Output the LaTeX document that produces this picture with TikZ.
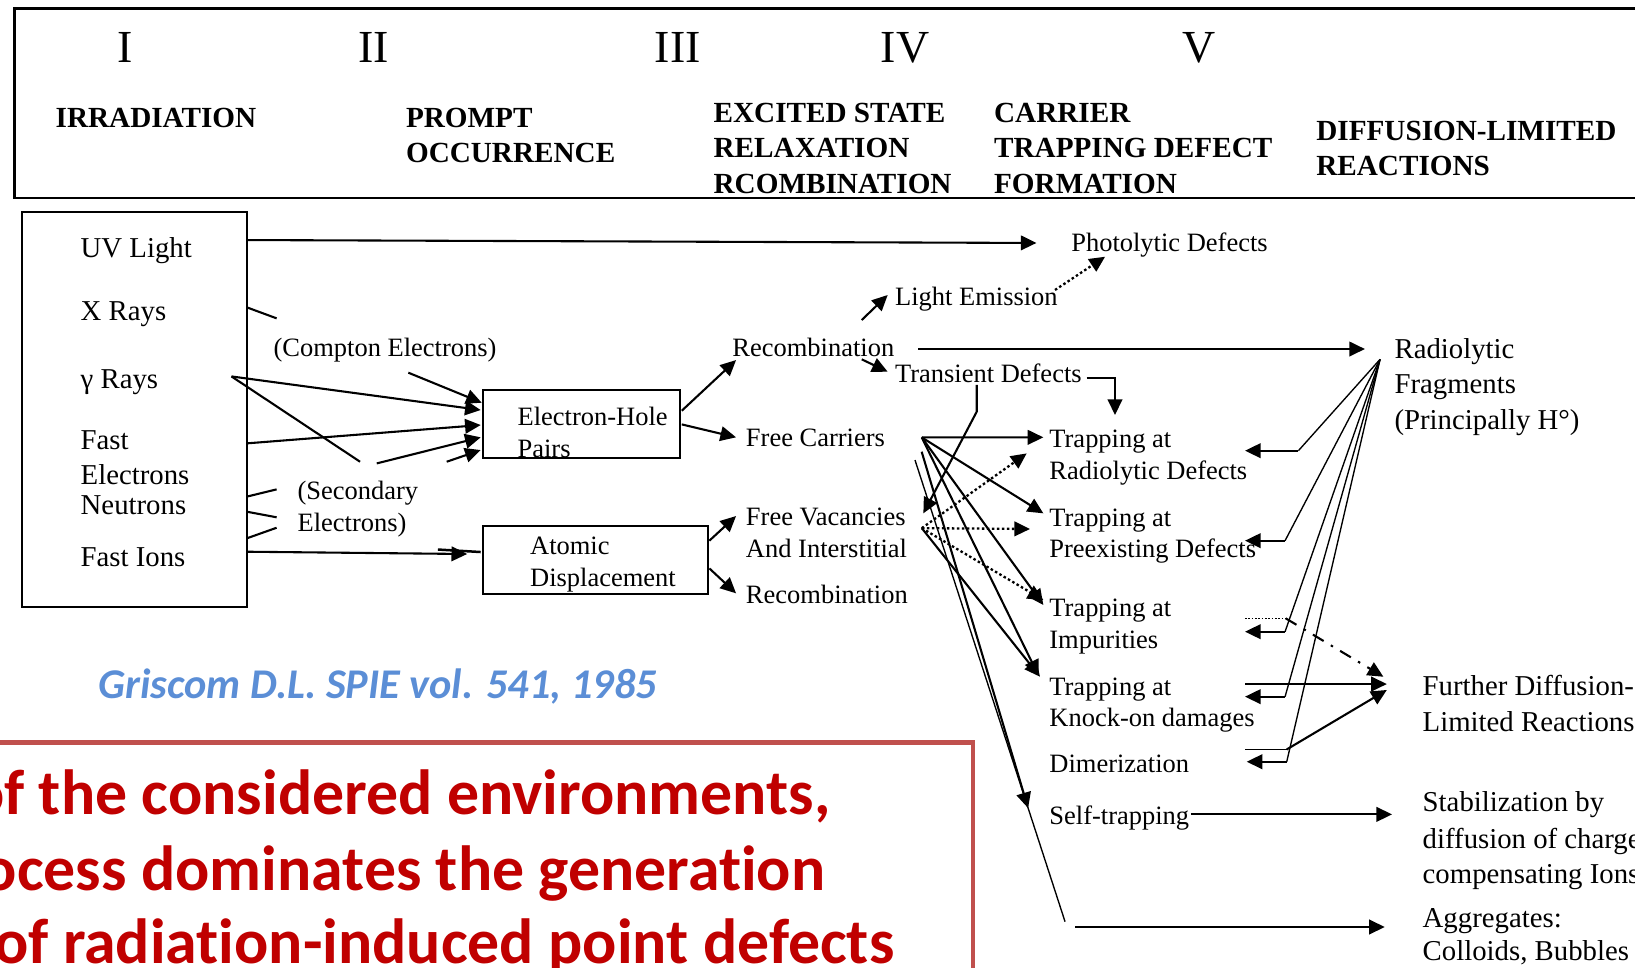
\documentclass[tikz,border=0pt]{standalone}
\usepackage{fontspec}
\setmainfont{Liberation Serif}
\newfontfamily\calfont[Ligatures=NoCommon]{Carlito}
\usetikzlibrary{arrows.meta}
\definecolor{refblue}{RGB}{91,142,214}
\definecolor{refred}{RGB}{192,0,0}
\definecolor{boxred}{RGB}{192,80,77}
\tikzset{
  txt/.style={anchor=mid west, inner sep=0pt, yshift=-2pt, font=\fontsize{12.7}{15}\selectfont},
  txtL/.style={txt, font=\fontsize{13.8}{16}\selectfont},
  hdr/.style={anchor=west, inner sep=0pt, font=\bfseries\fontsize{14}{17}\selectfont},
  num/.style={inner sep=0pt, font=\fontsize{22}{26}\selectfont},
  boxnode/.style={draw, line width=1pt, inner sep=0pt},
  arr/.style={-{Triangle[length=7.5pt,width=7pt]}, line width=1pt},
  ln/.style={line width=1pt},
  fanline/.style={line width=0.65pt},
  dots/.style={dash pattern=on 1.2pt off 1.2pt, line width=1.1pt},
  dotarr/.style={dots, -{Triangle[length=7.5pt,width=7pt]}},
  redtxt/.style={anchor=base east, inner sep=0pt, text=refred, font=\calfont\bfseries\fontsize{30.6}{36}\selectfont},
}
\begin{document}
\begin{tikzpicture}[x=0.5pt,y=-0.5pt]
\useasboundingbox (0,0) rectangle (1568,928);
\clip (0,0) rectangle (1568,928);
% header
\node[boxnode, line width=1.2pt, minimum width=793pt, minimum height=91pt] (hdrbox) at (807,99) {};
\node[num] (n1) at (120,46) {I};
\node[num] (n2) at (358,46) {II};
\node[num] (n3) at (650,46) {III};
\node[num] (n4) at (868,46) {IV};
\node[num] (n5) at (1150,46) {V};
\node[hdr] (h1) at (53,113) {IRRADIATION};
\node[hdr] (h2a) at (389,113) {PROMPT};
\node[hdr] (h2b) at (389,147) {OCCURRENCE};
\node[hdr] (h3a) at (684,108) {EXCITED STATE};
\node[hdr] (h3b) at (684,142) {RELAXATION};
\node[hdr] (h3c) at (684,176) {RCOMBINATION};
\node[hdr] (h4a) at (953,108) {CARRIER};
\node[hdr] (h4b) at (953,142) {TRAPPING DEFECT};
\node[hdr] (h4c) at (953,176) {FORMATION};
\node[hdr] (h5a) at (1262,126) {DIFFUSION-LIMITED};
\node[hdr] (h5b) at (1262,159) {REACTIONS};
% boxes
\node[boxnode, minimum width=107.9pt, minimum height=189.5pt] (src) at (128.7,393) {};
\node[boxnode, minimum width=94.35pt, minimum height=32.5pt] (ehbox) at (557.9,406.5) {};
\node[boxnode, minimum width=107.9pt, minimum height=32.6pt] (adbox) at (571.4,537.1) {};
% texts
\node[txtL] (uv) at (77,238) {UV Light};
\node[txtL] (xr) at (77,299) {X Rays};
\node[txtL] (gr) at (77,364) {γ Rays};
\node[txtL] (fe1) at (77,422) {Fast};
\node[txtL] (fe2) at (77,456) {Electrons};
\node[txtL] (fe3) at (77,485) {Neutrons};
\node[txtL] (fi) at (77,535) {Fast Ions};
\node[txt] (ce) at (262,333) {(Compton Electrons)};
\node[txt] (se1) at (285,470) {(Secondary};
\node[txt] (se2) at (285,501) {Electrons)};
\node[txt] (eh1) at (496,399) {Electron-Hole};
\node[txt] (eh2) at (496,430) {Pairs};
\node[txt] (ad1) at (508,523) {Atomic};
\node[txt] (ad2) at (508,554) {Displacement};
\node[txt] (rc) at (702,333) {Recombination};
\node[txt] (le) at (858,284) {Light Emission};
\node[txt] (pd) at (1027,233) {Photolytic Defects};
\node[txt] (td) at (858,358) {Transient Defects};
\node[txt] (fc) at (715,420) {Free Carriers};
\node[txt] (fv1) at (715,495) {Free Vacancies};
\node[txt] (fv2) at (715,526) {And Interstitial};
\node[txt] (rc2) at (715,570) {Recombination};
\node[txtL] (rf1) at (1337,335) {Radiolytic};
\node[txtL] (rf2) at (1337,369) {Fragments};
\node[txtL] (rf3) at (1337,403) {(Principally H°)};
\node[txt] (tr1) at (1006,421) {Trapping at};
\node[txt] (tr2) at (1006,451) {Radiolytic Defects};
\node[txt] (tp1) at (1006,496) {Trapping at};
\node[txt] (tp2) at (1006,526) {Preexisting Defects};
\node[txt] (ti1) at (1006,583) {Trapping at};
\node[txt] (ti2) at (1006,613) {Impurities};
\node[txt] (tk1) at (1006,658) {Trapping at};
\node[txt] (tk2) at (1006,688) {Knock-on damages};
\node[txt] (dm) at (1006,732) {Dimerization};
\node[txt] (st) at (1006,782) {Self-trapping};
\node[txtL] (fd1) at (1364,658) {Further Diffusion-};
\node[txtL] (fd2) at (1364,693) {Limited Reactions};
\node[txtL] (sb1) at (1364,770) {Stabilization by};
\node[txtL] (sb2) at (1364,805) {diffusion of charge};
\node[txtL] (sb3) at (1364,839) {compensating Ions};
\node[txtL] (ag1) at (1364,881) {Aggregates:};
\node[txtL] (ag2) at (1364,913) {Colloids, Bubbles};
\node[anchor=west, inner sep=0pt, text=refblue, font=\calfont\bfseries\itshape\fontsize{20.3}{24}\selectfont] (cite) at (94,658) {Griscom D.L. SPIE vol. 541, 1985};
% red box
\draw[boxred, line width=2pt] (-20,712) rectangle (933,990);
\node[redtxt] (r1) at (797,781) {of the considered environments,};
\node[redtxt] (r2) at (792,854) {ocess dominates the generation};
\node[redtxt] (r3) at (858,924) {of radiation-induced point defects};
% coordinates
\coordinate (uvS) at (236.6,230.2); \coordinate (uvE) at (994,233);
\coordinate (xr1) at (236.6,294.7); \coordinate (xr2) at (265.3,305.3);
\coordinate (cmS) at (391.6,357.4); \coordinate (cmE) at (462,386.2);
\coordinate (gmS) at (222,361); \coordinate (gmE) at (461,393.2); \coordinate (gm2) at (345.3,442.8);
\coordinate (feS) at (236.6,425.2); \coordinate (feE) at (461,407.6);
\coordinate (a7S) at (361.3,444.4); \coordinate (a7E) at (461,419.4);
\coordinate (a8S) at (428.4,442.8); \coordinate (a8E) at (461,431.6);
\coordinate (s1a) at (236.6,476.3); \coordinate (s1b) at (265.3,469.3);
\coordinate (s2a) at (236.6,490.7); \coordinate (s2b) at (265.3,496.1);
\coordinate (s3a) at (236.6,516.3); \coordinate (s3b) at (265.3,506.1);
\coordinate (fiS) at (236.6,529.1); \coordinate (fiE) at (448,531.3);
\coordinate (dsA) at (420,527); \coordinate (dsB) at (461,529.4);
\coordinate (eh1S) at (653.8,393.9); \coordinate (rcE) at (705.9,345.3);
\coordinate (eh2S) at (653.8,407); \coordinate (fcE) at (705.9,419.4);
\coordinate (ad1S) at (680.3,518.5); \coordinate (fvE) at (705.9,494.9);
\coordinate (ad2S) at (680.3,545.1); \coordinate (rc2E) at (705.9,569);
\coordinate (rcLa) at (826.4,306.9); \coordinate (leE) at (851.3,282.9);
\coordinate (rcTa) at (826.4,344.6); \coordinate (tdE) at (851.3,356.5);
\coordinate (rcR) at (880.7,334.7); \coordinate (rfE) at (1309,334.7);
\coordinate (leR) at (1011.8,278.1); \coordinate (pdE) at (1059.8,246.2);
\coordinate (tdR) at (1042.2,362.8); \coordinate (tdC) at (1069.3,362.8); \coordinate (trT) at (1069.3,398);
\coordinate (tdB) at (936.7,369.2); \coordinate (tdK) at (936.7,394.8); \coordinate (fvA) at (885.5,492.3);
\coordinate (fcO) at (884,419.5);
\coordinate (tR) at (1000.6,419.4); \coordinate (tP) at (1000.6,492.3); \coordinate (tI) at (1000.6,580.2); \coordinate (tK) at (996,648);
\coordinate (fvO) at (884,506.5);
\coordinate (dR) at (984.6,434.8); \coordinate (dP) at (987.8,507.3); \coordinate (dI) at (1000.6,575.4); \coordinate (tK2) at (997.4,649);
\coordinate (stS) at (883.9,433.2); \coordinate (stE) at (986,775);
\coordinate (agS) at (877.5,441.2); \coordinate (agM) at (1021.4,883.9);
\coordinate (agA) at (1031,889); \coordinate (agE) at (1328,889);
\coordinate (slS) at (1142,781); \coordinate (sbE) at (1335,781);
\coordinate (R) at (1323.5,344.6);
\coordinate (b1) at (1245.2,432.2); \coordinate (e1) at (1194,432.2);
\coordinate (b2) at (1232.4,518.5); \coordinate (e2) at (1194,518.5);
\coordinate (b3) at (1232.4,605.8); \coordinate (e3) at (1194,605.8);
\coordinate (b4) at (1232.4,668.1); \coordinate (e4) at (1194,668.1);
\coordinate (b5) at (1234,730.5); \coordinate (e5) at (1195.6,730.5);
\coordinate (iD) at (1194,593); \coordinate (iDb) at (1233,593);
\coordinate (fdE) at (1326.7,649);
\coordinate (kS) at (1194,656); \coordinate (kE) at (1330,656);
\coordinate (dmS) at (1194,718.7); \coordinate (dmB) at (1234,718.7); \coordinate (dmE) at (1330,661.7);
% connectors
\draw[arr] (uvS) -- (uvE);
\draw[ln] (xr1) -- (xr2);
\draw[arr] (cmS) -- (cmE);
\draw[arr] (gmS) -- (gmE);
\draw[ln] (gmS) -- (gm2);
\draw[arr] (feS) -- (feE);
\draw[arr] (a7S) -- (a7E);
\draw[arr] (a8S) -- (a8E);
\draw[ln] (s1a) -- (s1b);
\draw[ln] (s2a) -- (s2b);
\draw[ln] (s3a) -- (s3b);
\draw[arr] (fiS) -- (fiE);
\draw[line width=1.2pt] (dsA) -- (dsB);
\draw[arr] (eh1S) -- (rcE);
\draw[arr] (eh2S) -- (fcE);
\draw[arr] (ad1S) -- (fvE);
\draw[arr] (ad2S) -- (rc2E);
\draw[arr] (rcLa) -- (leE);
\draw[arr] (rcTa) -- (tdE);
\draw[arr] (rcR) -- (rfE);
\draw[dotarr] (leR) -- (pdE);
\draw[arr] (tdR) -- (tdC) -- (trT);
\draw[arr] (tdB) -- (tdK) -- (fvA);
\draw[arr] (fcO) -- (tR);
\draw[arr] (fcO) -- (tP);
\draw[arr] (fcO) -- (tI);
\draw[arr] (fcO) -- (tK);
\draw[dotarr] (fvO) -- (dR);
\draw[dotarr] (fvO) -- (dP);
\draw[dotarr] (fvO) -- (dI);
\draw[arr] (fvO) -- (tK2);
\draw[arr] (stS) -- (stE);
\draw[fanline] (agS) -- (agM);
\draw[arr] (agA) -- (agE);
\draw[arr] (slS) -- (sbE);
\draw[fanline] (R) -- (b1); \draw[arr] (b1) -- (e1);
\draw[fanline] (R) -- (b2); \draw[arr] (b2) -- (e2);
\draw[fanline] (R) -- (b3); \draw[arr] (b3) -- (e3);
\draw[fanline] (R) -- (b4); \draw[arr] (b4) -- (e4);
\draw[fanline] (R) -- (b5); \draw[arr] (b5) -- (e5);
\draw[dash pattern=on 0.8pt off 0.8pt, line width=0.7pt] (iD) -- (iDb);
\draw[line width=1pt, dash pattern=on 6pt off 4pt on 1.2pt off 4pt, -{Triangle[length=7.5pt,width=7pt]}] (iDb) -- (fdE);
\draw[arr] (kS) -- (kE);
\draw[fanline] (dmS) -- (dmB);
\draw[arr] (dmB) -- (dmE);
\end{tikzpicture}
\end{document}
